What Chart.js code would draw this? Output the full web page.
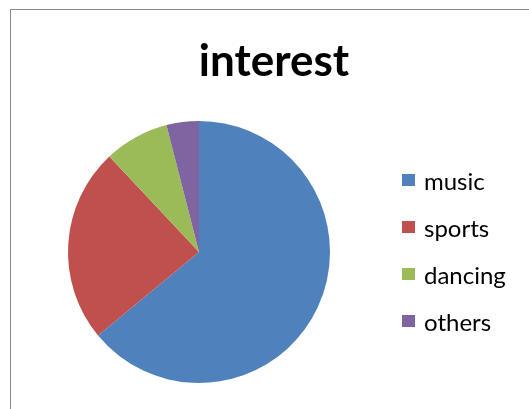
<!DOCTYPE html>
<html>
<head>
<meta charset="utf-8">
<script src="https://cdn.jsdelivr.net/npm/chart.js@4"></script>
<style>
  html, body { margin: 0; padding: 0; background: #fff; }
  #wrap { position: relative; width: 529px; height: 409px; overflow: hidden; }
  #frame { position: absolute; left: 10px; top: 9px; right: -5px; bottom: -5px;
           border-left: 1px solid #8a8a8a; border-top: 1px solid #8a8a8a; }
  #pie { position: absolute; left: 0; top: 0; }
  #title { position: absolute; left: 0; width: 548px; top: 33px; text-align: center;
           font: bold 44px Lato, sans-serif; color: #000; line-height: 52px; }
  .leg { position: absolute; left: 402px; font: 24px Lato, sans-serif; color: #000;
         display: flex; align-items: center; height: 30px; }
  .leg i { display: inline-block; width: 13px; height: 12px; margin-right: 9px; }
</style>
</head>
<body>
<div id="wrap">
  <div id="frame"></div>
  <canvas id="pie" width="529" height="409"></canvas>
  <div id="title">interest</div>
  <div id="legend"></div>
</div>
<script>
/* chart data */
const labels = ['music', 'sports', 'dancing', 'others'];
const values = [64, 24, 8, 4];
const colors = ['#4F81BD', '#C0504D', '#9BBB59', '#8064A2'];

// legend rows (centre y)
const legendY = [180, 227, 274, 321];

document.getElementById('legend').innerHTML = labels.map((l, i) => `
  <div class="leg" style="top:${legendY[i] - 15}px"><i style="background:${colors[i]}"></i>${l}</div>
`).join('');

new Chart(document.getElementById('pie').getContext('2d'), {
  type: 'pie',
  data: {
    labels: labels,
    datasets: [{ data: values, backgroundColor: colors, borderWidth: 0 }]
  },
  options: {
    responsive: false, animation: false,
    layout: { padding: { left: 10, right: 141, top: 121, bottom: 26 } },
    plugins: {
      legend: { display: false },
      tooltip: { enabled: false },
      title: { display: false }
    }
  }
});
</script>
</body>
</html>
